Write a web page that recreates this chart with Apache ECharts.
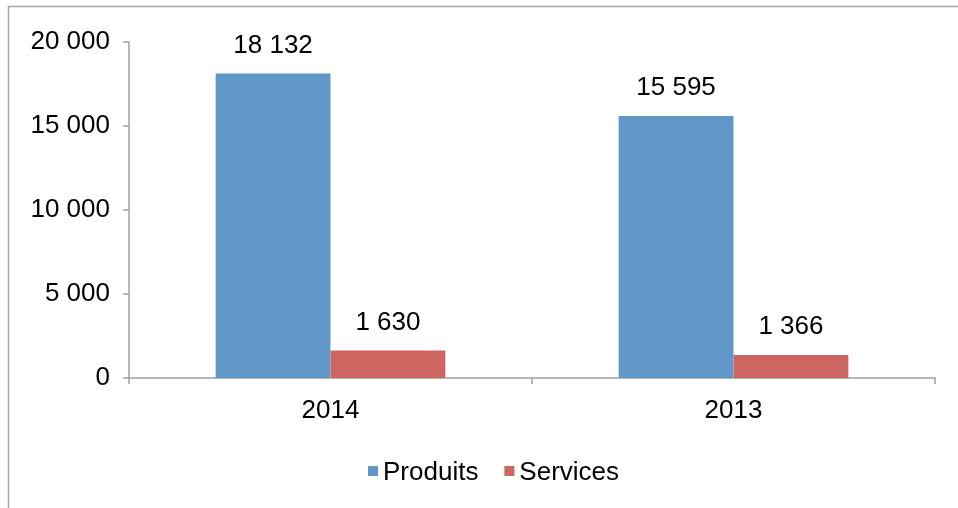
<!DOCTYPE html>
<html>
<head>
<meta charset="utf-8">
<script src="https://cdn.jsdelivr.net/npm/echarts@6/dist/echarts.min.js"></script>
<style>
html,body{margin:0;padding:0;background:#fff;}
#chart{width:958px;height:508px;}
</style>
</head>
<body>
<div id="chart"></div>
<script>
const categories = ['2014', '2013'];
const seriesNames = ['Produits', 'Services'];
const produits = [18132, 15595];
const services = [1630, 1366];
const yTicks = { min: 0, max: 20000, interval: 5000 };

function fmt(v) {
  return String(Math.round(v)).replace(/\B(?=(\d{3})+(?!\d))/g, ' ');
}

const FONT = '"Liberation Sans", Arial, Helvetica, sans-serif';
const axisColor = '#a0a0a0';

const chart = echarts.init(document.getElementById('chart'), null, { renderer: 'canvas' });
chart.setOption({
  animation: false,
  backgroundColor: '#fff',
  textStyle: { fontFamily: FONT },
  graphic: [{
    type: 'rect',
    shape: { x: 8.5, y: 6.5, width: 1200, height: 800 },
    style: { fill: 'none', stroke: '#a6a6a6', lineWidth: 1.5 },
    silent: true
  }],
  grid: { left: 129, right: 23, top: 42, bottom: 130 },
  legend: {
    data: seriesNames,
    left: 363,
    top: 455,
    itemWidth: 10,
    itemHeight: 14,
    itemGap: 26,
    icon: 'path://M0,0L10,0L10,10L0,10Z M0,14L0.01,14L0.01,14.01Z',
    textStyle: { fontFamily: FONT, fontSize: 26, lineHeight: 26, color: '#000' }
  },
  xAxis: {
    type: 'category',
    data: categories,
    boundaryGap: true,
    axisLine: { lineStyle: { color: axisColor, width: 1.5 } },
    axisTick: { show: true, length: 6, lineStyle: { color: axisColor, width: 1.5 } },
    axisLabel: { fontFamily: FONT, fontSize: 26, color: '#000', margin: 20 },
    splitLine: { show: false }
  },
  yAxis: {
    type: 'value',
    min: yTicks.min,
    max: yTicks.max,
    interval: yTicks.interval,
    axisLine: { show: true, lineStyle: { color: axisColor, width: 1.5 } },
    axisTick: { show: true, length: 6, lineStyle: { color: axisColor, width: 1.5 } },
    axisLabel: { fontFamily: FONT, fontSize: 26, color: '#000', margin: 19, formatter: fmt },
    splitLine: { show: false }
  },
  series: [
    {
      name: seriesNames[0],
      type: 'bar',
      data: produits,
      barGap: '0%',
      barCategoryGap: '43%',
      itemStyle: { color: '#6196c9' },
      label: { show: true, position: 'top', distance: 15, fontFamily: FONT, fontSize: 26, color: '#000', formatter: p => fmt(p.value) }
    },
    {
      name: seriesNames[1],
      type: 'bar',
      data: services,
      barGap: '0%',
      barCategoryGap: '43%',
      itemStyle: { color: '#cd6660' },
      label: { show: true, position: 'top', distance: 15, fontFamily: FONT, fontSize: 26, color: '#000', formatter: p => fmt(p.value) }
    }
  ]
});
</script>
</body>
</html>
